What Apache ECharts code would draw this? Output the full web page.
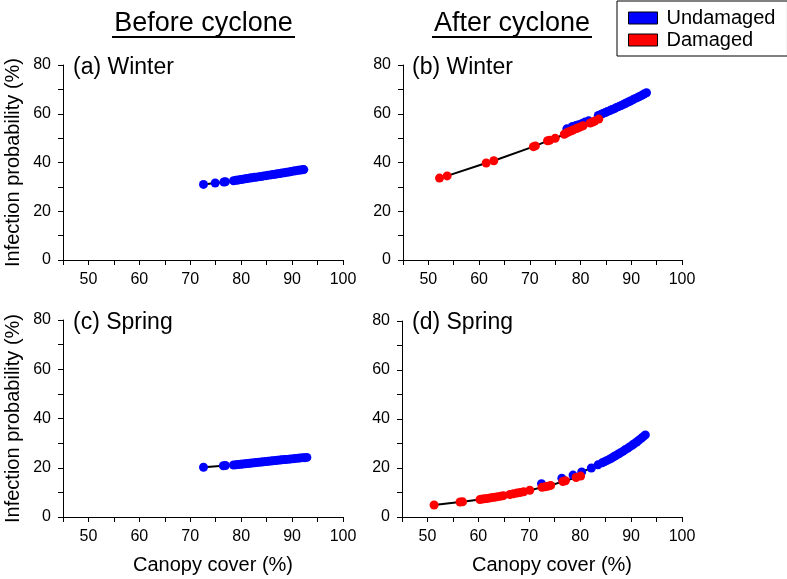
<!DOCTYPE html>
<html>
<head>
<meta charset="utf-8">
<script src="https://cdn.jsdelivr.net/npm/echarts@6/dist/echarts.min.js"></script>
<style>
html, body { margin: 0; padding: 0; background: #fff; }
#chart { width: 787px; height: 579px; }
</style>
</head>
<body>
<div id="chart"></div>
<script>
// axis ranges / ticks
var xMin = 45, xMax = 100, xStep = 5, xLabelStep = 10;
var yMin = 0, yMax = 80, yStep = 10, yLabelStep = 20;

var colTitles = ['Before cyclone', 'After cyclone'];
var panelLabels = ['(a) Winter', '(b) Winter', '(c) Spring', '(d) Spring'];

// (a) before cyclone, winter - all undamaged
var undamagedA = [[72.6,31.0],[74.9,31.6],[76.6,32.0],[76.9,32.1],[78.5,32.5],[79.0,32.7],[79.4,32.8],[79.9,33.0],
  [80.3,33.1],[80.8,33.3],[81.2,33.4],[81.7,33.6],[82.1,33.7],[82.6,33.9],[83.0,34.0],[83.5,34.2],[84.0,34.3],
  [84.4,34.5],[84.9,34.6],[85.3,34.8],[85.8,34.9],[86.2,35.1],[86.7,35.2],[87.1,35.4],[87.6,35.5],[88.0,35.7],
  [88.5,35.8],[88.9,36.0],[89.4,36.1],[89.8,36.3],[90.3,36.5],[90.7,36.6],[91.2,36.8],[91.6,36.9],[92.0,37.0],[92.3,37.1]];

// (b) after cyclone, winter
var undamagedB = [[77.3,53.8],[78.4,54.8],[79.1,55.2],[79.6,55.5],[80.3,56.0],[80.9,56.6],[81.6,57.1],
  [83.5,59.3],[84.0,59.7],[84.4,60.1],[84.9,60.5],[85.3,60.9],[85.8,61.3],[86.2,61.7],[86.7,62.1],[87.1,62.6],
  [87.6,63.0],[88.0,63.4],[88.5,63.9],[88.9,64.3],[89.4,64.8],[89.8,65.2],[90.3,65.7],[90.7,66.2],[91.2,66.6],
  [91.6,67.1],[92.1,67.6],[92.5,68.1],[93.0,68.6]];
var damagedB = [[52.2,33.6],[53.7,34.5],[61.4,39.8],[62.9,40.7],[70.7,46.5],[71.1,46.8],[73.5,48.9],[73.9,49.1],
  [75.0,49.9],[76.8,51.6],[77.3,52.2],[77.7,52.6],[78.2,53.0],[78.6,53.4],[79.2,53.9],[79.6,54.3],[80.0,54.6],
  [80.5,55.1],[81.9,56.2],[82.4,56.6],[82.8,57.0],[83.6,57.8]];

// (c) before cyclone, spring - all undamaged
var undamagedC = [[72.6,20.2],[76.5,20.8],[76.9,20.9],[78.5,21.1],[79.0,21.2],[79.4,21.3],[79.9,21.4],[80.3,21.5],
  [80.8,21.6],[81.2,21.7],[81.7,21.8],[82.1,21.9],[82.6,22.0],[83.0,22.1],[83.5,22.2],[84.0,22.3],[84.4,22.4],
  [84.9,22.5],[85.3,22.6],[85.8,22.7],[86.2,22.8],[86.7,22.9],[87.1,23.0],[87.6,23.1],[88.0,23.2],[88.5,23.3],
  [88.9,23.4],[89.4,23.5],[89.8,23.6],[90.3,23.7],[90.7,23.8],[91.2,23.9],[91.6,24.0],[92.1,24.1],[92.5,24.1],[92.9,24.2]];

// (d) after cyclone, spring
var undamagedD = [[72.4,13.6],[76.4,15.8],[78.6,17.1],[80.3,18.4],[82.2,20.0],[83.5,21.3],[84.3,22.1],[84.8,22.6],
  [85.2,23.0],[85.7,23.5],[86.1,24.0],[86.6,24.6],[87.0,25.1],[87.5,25.7],[87.9,26.2],[88.4,26.8],[88.8,27.4],
  [89.3,28.0],[89.7,28.6],[90.2,29.3],[90.6,29.9],[91.1,30.6],[91.5,31.3],[92.0,32.1],[92.4,32.8],[92.8,33.5]];
var damagedD = [[51.3,4.9],[56.4,6.1],[56.9,6.2],[60.3,7.1],[60.8,7.3],[61.3,7.5],[61.8,7.6],[62.3,7.8],[62.8,8.0],
  [63.3,8.1],[63.8,8.3],[64.4,8.5],[64.9,8.7],[66.2,9.2],[66.9,9.5],[67.6,9.8],[68.2,10.0],[68.9,10.3],[70.1,10.9],
  [72.5,12.1],[73.1,12.3],[73.7,12.6],[74.2,12.9],[76.6,14.5],[77.1,14.8],[79.2,16.1],[80.1,16.7]];

var FONT = 'Liberation Sans, Arial, sans-serif';
var BLUE = '#0000ff', RED = '#ff0000';

// fitted curve drawn through damaged points, then undamaged points beyond them
function curve(dmg, und) {
  var lastX = dmg.length ? dmg[dmg.length - 1][0] : -Infinity;
  return dmg.concat(und.filter(function (p) { return p[0] > lastX; }))
    .sort(function (a, b) { return a[0] - b[0]; });
}

var grids = [
  { left: 63, top: 65, width: 280, height: 195 },
  { left: 403, top: 65, width: 279, height: 195 },
  { left: 63, top: 320, width: 280, height: 197 },
  { left: 402, top: 321, width: 280, height: 196 }
];

function xAxisFor(i, showName) {
  return {
    gridIndex: i, type: 'value', min: xMin, max: xMax, interval: xStep,
    axisLine: { lineStyle: { color: '#000', width: 1 } },
    axisTick: { length: 5, lineStyle: { color: '#000', width: 1 } },
    axisLabel: {
      margin: 12, color: '#000', fontSize: 16, fontFamily: FONT,
      formatter: function (v) { return v % xLabelStep === 0 ? String(v) : ''; }
    },
    splitLine: { show: false },
    name: showName ? 'Canopy cover (%)' : '',
    nameLocation: 'middle', nameGap: 38,
    nameTextStyle: { fontSize: 20, color: '#000', fontFamily: FONT, padding: [0, 0, 0, 20] }
  };
}

function yAxisFor(i, showName) {
  return {
    gridIndex: i, type: 'value', min: yMin, max: yMax, interval: yStep,
    axisLine: { show: true, lineStyle: { color: '#000', width: 1 } },
    axisTick: { show: true, length: 5, lineStyle: { color: '#000', width: 1 } },
    axisLabel: {
      margin: 12, color: '#000', fontSize: 16, fontFamily: FONT,
      formatter: function (v) { return v % yLabelStep === 0 ? String(v) : ''; }
    },
    splitLine: { show: false },
    name: showName ? 'Infection probability (%)' : '',
    nameLocation: 'middle', nameGap: 40,
    nameTextStyle: { fontSize: 20, color: '#000', fontFamily: FONT }
  };
}

function lineSeries(i, pts) {
  return {
    type: 'line', xAxisIndex: i, yAxisIndex: i, data: pts, showSymbol: false,
    silent: true, z: 1, lineStyle: { color: '#000', width: 2 }
  };
}
function dotSeries(i, name, color, pts) {
  return {
    name: name, type: 'scatter', xAxisIndex: i, yAxisIndex: i, data: pts,
    symbolSize: 9, itemStyle: { color: color, opacity: 1 }, z: 2
  };
}

var series = [
  lineSeries(0, curve([], undamagedA)),
  dotSeries(0, 'Undamaged', BLUE, undamagedA),
  lineSeries(1, curve(damagedB, undamagedB)),
  dotSeries(1, 'Undamaged', BLUE, undamagedB),
  dotSeries(1, 'Damaged', RED, damagedB),
  lineSeries(2, curve([], undamagedC)),
  dotSeries(2, 'Undamaged', BLUE, undamagedC),
  lineSeries(3, curve(damagedD, undamagedD)),
  dotSeries(3, 'Undamaged', BLUE, undamagedD),
  dotSeries(3, 'Damaged', RED, damagedD)
];

// column titles (underlined) and panel labels
var graphic = [];
var titlePos = [[203.5, 24, 112, 295], [512, 24, 432, 592]];
colTitles.forEach(function (t, k) {
  var p = titlePos[k];
  graphic.push({ type: 'text', x: p[0], y: p[1],
    style: { text: t, font: '27px ' + FONT, fill: '#000', textAlign: 'center', textVerticalAlign: 'middle' } });
  graphic.push({ type: 'line', shape: { x1: p[2], y1: 37, x2: p[3], y2: 37 },
    style: { stroke: '#000', lineWidth: 2 } });
});
var labelPos = [[73, 68], [412, 68], [73, 323], [412, 323]];
panelLabels.forEach(function (t, k) {
  graphic.push({ type: 'text', x: labelPos[k][0], y: labelPos[k][1],
    style: { text: t, font: '23px ' + FONT, fill: '#000', textAlign: 'left', textVerticalAlign: 'middle' } });
});

var chart = echarts.init(document.getElementById('chart'));
var option = {
  animation: false,
  backgroundColor: '#fff',
  grid: grids,
  xAxis: [xAxisFor(0, false), xAxisFor(1, false), xAxisFor(2, true), xAxisFor(3, true)],
  yAxis: [yAxisFor(0, true), yAxisFor(1, false), yAxisFor(2, true), yAxisFor(3, false)],
  legend: {
    data: [{ name: 'Undamaged', icon: 'rect' }, { name: 'Damaged', icon: 'rect' }],
    orient: 'vertical', left: 617, top: 1,
    itemWidth: 29, itemHeight: 12, itemGap: 2,
    padding: [7, 12, 6, 11],
    borderColor: '#000', borderWidth: 1, backgroundColor: '#fff',
    itemStyle: { borderColor: '#000', borderWidth: 1 },
    textStyle: { fontSize: 20, color: '#000', fontFamily: FONT, padding: [0, 0, 0, 4] },
    selectedMode: false
  },
  graphic: graphic,
  series: series
};
chart.setOption(option);
</script>
</body>
</html>
